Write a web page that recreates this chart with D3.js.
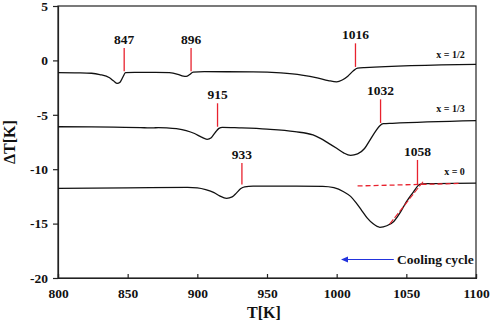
<!DOCTYPE html>
<html><head><meta charset="utf-8">
<script src="https://cdn.jsdelivr.net/npm/d3@7"></script>
<style>body{margin:0;background:#fff}svg{display:block}text{font-family:"Liberation Serif","Times New Roman",serif;font-weight:bold}</style>
</head><body><svg id="c" width="492" height="324"></svg>
<script>
const xTicks=[800,850,900,950,1000,1050,1100];
const yTicks=[5,0,-5,-10,-15,-20];
const curveHalf=[[800,-1.12],[815,-1.14],[824,-1.18],[830,-1.3],[837,-1.6],[840,-1.9],[842.5,-2.12],[844.5,-2.0],[846.5,-1.55],[848.5,-1.13],[855,-1.1],[870,-1.1],[880,-1.13],[886,-1.28],[890,-1.45],[892,-1.47],[894.5,-1.3],[897,-1.07],[905,-1.04],[940,-1.05],[960,-1.15],[975,-1.35],[986,-1.6],[994,-1.85],[1000,-1.97],[1004,-1.8],[1008,-1.45],[1012,-0.95],[1015,-0.72],[1020,-0.66],[1100,-0.36]];
const curveThird=[[800,-6.1],[840,-6.13],[862,-6.19],[868,-6.21],[872,-6.17],[878,-6.2],[885,-6.28],[892,-6.45],[898,-6.72],[903,-7.05],[907,-7.25],[910,-7.1],[913,-6.6],[915.5,-6.25],[918,-6.15],[930,-6.2],[950,-6.32],[970,-6.55],[983,-6.85],[988,-7.15],[994,-7.6],[1000,-8.08],[1005,-8.5],[1010,-8.73],[1015,-8.6],[1020,-8.1],[1024,-7.3],[1028,-6.5],[1031,-6.0],[1033.5,-5.82],[1040,-5.78],[1100,-5.54]];
const curveZero=[[800,-11.76],[850,-11.72],[893,-11.67],[900,-11.72],[906,-11.88],[912,-12.15],[916,-12.45],[921,-12.68],[925,-12.55],[928,-12.2],[931,-11.8],[934,-11.62],[940,-11.56],[960,-11.55],[990,-11.58],[998,-11.7],[1005,-12.07],[1010,-12.5],[1014,-13.1],[1018,-13.8],[1022,-14.5],[1026,-15.0],[1031,-15.34],[1036,-15.2],[1041,-14.8],[1046,-13.9],[1050,-13.0],[1055,-12.1],[1060,-11.38],[1065,-11.33],[1100,-11.28]];
const markerT=[847.5,895.5,1013.5,914.5,1031.5,932,1058];
const markerLabels=["847","896","1016","915","1032","933","1058"];
const markerTop=[1.14,1.14,1.57,-3.94,-3.58,-9.43,-9.15];
const markerBottom=[-1.0,-1.0,-0.6,-6.1,-5.75,-11.4,-11.4];
const seriesNames=["x = 1/2","x = 1/3","x = 0"];
const seriesLabelY=[0.22,-4.74,-10.53];
const tangentLine=[[1038,-15.05],[1062,-11.15]];
const baselineDash=[[1015,-11.54],[1088,-11.31]];

const svg=d3.select("#c");
const L=58,T=6,W=418,H=272;
const FF='"Liberation Serif","Times New Roman",serif';
const x=d3.scaleLinear().domain([800,1100]).range([L,L+W]);
const y=d3.scaleLinear().domain([-20,5]).range([T+H,T]);
svg.append("rect").attr("x",L).attr("y",T).attr("width",W).attr("height",H).attr("fill","none").attr("stroke","#222").attr("stroke-width",1.2);
const xa=svg.append("g").attr("transform",`translate(0,${T+H})`).call(d3.axisBottom(x).tickValues(xTicks).tickSize(-4).tickPadding(10).tickFormat(d3.format("d")));
const ya=svg.append("g").attr("transform",`translate(${L},0)`).call(d3.axisLeft(y).tickValues(yTicks).tickSize(5).tickPadding(5).tickFormat(d=>d));
[xa,ya].forEach(a=>{a.attr("font-family",FF);a.select(".domain").attr("stroke","#222").attr("stroke-width",1.2);a.selectAll(".tick line").attr("stroke","#222").attr("stroke-width",1.2);a.selectAll("text").attr("font-size",13.5).attr("fill","#111").style("font-family",FF).style("font-weight","bold");});
ya.selectAll("text").text(d=>d<0?"-"+(-d):d);
xa.selectAll("text").attr("dy","0.71em");

const line=d3.line().x(d=>x(d[0])).y(d=>y(d[1])).curve(d3.curveMonotoneX);
[curveHalf,curveThird,curveZero].forEach(c=>{
  svg.append("path").attr("d",line(c)).attr("fill","none").attr("stroke","#111").attr("stroke-width",1.3);
});
const red="#e8222e";
markerT.forEach((t,i)=>{
  svg.append("line").attr("x1",x(t)).attr("x2",x(t)).attr("y1",y(markerTop[i])).attr("y2",y(markerBottom[i])).attr("stroke",red).attr("stroke-width",1.3);
  svg.append("text").attr("x",x(t)).attr("y",y(markerTop[i])-4).attr("text-anchor","middle").attr("font-size",13.5).attr("fill","#111").text(markerLabels[i]);
});
const sl=d3.line().x(d=>x(d[0])).y(d=>y(d[1]));
svg.append("path").attr("d",sl(baselineDash)).attr("stroke",red).attr("stroke-width",1.3).attr("stroke-dasharray","5,3").attr("fill","none");
svg.append("path").attr("d",sl(tangentLine)).attr("stroke",red).attr("stroke-width",1.1).attr("stroke-dasharray","6,2").attr("fill","none");
seriesNames.forEach((n,i)=>{
  svg.append("text").attr("x",x(1092)).attr("y",y(seriesLabelY[i])).attr("text-anchor","end").attr("font-size",10).attr("fill","#111").text(n);
});
svg.append("defs").append("marker").attr("id","ah").attr("viewBox","0 0 10 10").attr("refX",8).attr("refY",5).attr("markerWidth",6).attr("markerHeight",6).attr("orient","auto").append("path").attr("d","M0,1 L10,5 L0,9 Z").attr("fill","#2233dd");
svg.append("line").attr("x1",x(1041)).attr("x2",x(1004)).attr("y1",y(-18.3)).attr("y2",y(-18.3)).attr("stroke","#2233dd").attr("stroke-width",1.2).attr("marker-end","url(#ah)");
svg.append("text").attr("x",x(1043.3)).attr("y",y(-18.3)+4.5).attr("font-size",13.5).attr("fill","#111").text("Cooling cycle");
svg.append("text").attr("x",L+W/2-3).attr("y",318).attr("text-anchor","middle").attr("font-size",16).attr("fill","#111").text("T[K]");
svg.append("text").attr("transform",`translate(15,${T+H/2}) rotate(-90)`).attr("text-anchor","middle").attr("font-size",16).attr("fill","#111").text("ΔT[K]");
</script></body></html>
